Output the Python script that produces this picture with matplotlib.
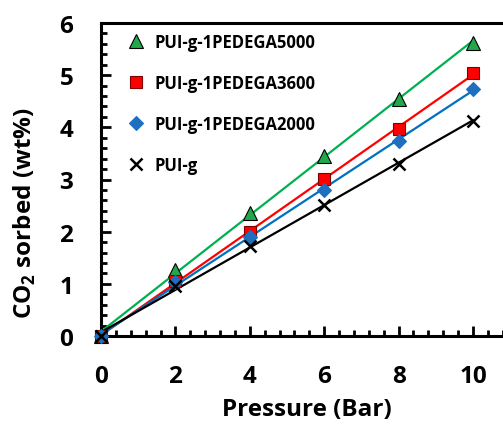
import numpy as np
import matplotlib
matplotlib.use("Agg")
import matplotlib.pyplot as plt
from matplotlib.ticker import MultipleLocator

plt.rcParams['font.family'] = ['Open Sans', 'DejaVu Sans']
plt.rcParams['font.weight'] = 'bold'
plt.rcParams['mathtext.fontset'] = 'custom'
plt.rcParams['mathtext.rm'] = 'Open Sans:bold'
plt.rcParams['mathtext.bf'] = 'Open Sans:bold'

pressure = [0, 2, 4, 6, 8, 10]
pedega5000 = [0.0, 1.27, 2.35, 3.45, 4.55, 5.62]
pedega3600 = [0.0, 1.06, 1.99, 3.01, 3.97, 5.04]
pedega2000 = [0.0, 1.03, 1.89, 2.80, 3.74, 4.74]
pui_g = [0.0, 0.95, 1.73, 2.52, 3.30, 4.12]

labels = ["PUI-g-1PEDEGA5000", "PUI-g-1PEDEGA3600", "PUI-g-1PEDEGA2000", "PUI-g"]

fig = plt.figure(figsize=(5.03, 4.27), dpi=100)
ax = fig.add_axes([101/503, 1-337/427, 1-101/503, (337-24)/427])

series = [
    (pedega5000, '^', '#22A84A', 'black', '#00B050', 10),
    (pedega3600, 's', '#FF0000', '#7F0000', '#FF0000', 9),
    (pedega2000, 'D', '#1F6FC0', '#1F6FC0', '#0070C0', 7),
    (pui_g, 'x', 'black', 'black', 'black', 8),
]
x = np.array(pressure, dtype=float)
xf = np.array([0.0, 10.0])
for (y, m, fc, ec, lc, ms), lab in zip(series, labels):
    p = np.polyfit(x, np.array(y), 1)
    ax.plot(xf, np.polyval(p, xf), color=lc, lw=1.6, zorder=2)
    ax.plot(x, y, linestyle='none', marker=m, markersize=ms, markerfacecolor=fc,
            markeredgecolor=ec, markeredgewidth=1.8 if m == 'x' else 0.8,
            label=lab, zorder=3, clip_on=False)

ax.set_xlim(0, (503 - 101) / 37.2)
ax.set_ylim(0, 6)
ax.xaxis.set_major_locator(MultipleLocator(2))
ax.xaxis.set_minor_locator(MultipleLocator(0.4))
ax.yaxis.set_major_locator(MultipleLocator(1))
ax.yaxis.set_minor_locator(MultipleLocator(0.2))
ax.set_xticks([0, 2, 4, 6, 8, 10])
ax.tick_params(which='both', direction='in', width=2, labelsize=17.5, pad=20)
ax.tick_params(which='major', length=7)
ax.tick_params(which='minor', length=4.5)
for sp in ['left', 'bottom', 'top']:
    ax.spines[sp].set_linewidth(2.2)
ax.spines['right'].set_visible(False)

ax.set_xlabel('Pressure (Bar)', fontsize=17.5, fontweight='bold')
ax.set_ylabel(r'CO$_{2}$ sorbed (wt%)', fontsize=17.5, fontweight='bold')
ax.xaxis.set_label_coords((307-101)/(503-101), -(398-337)/313)
ax.yaxis.set_label_coords(-(101-38)/402, (337-213)/313)

leg = ax.legend(loc='upper left', frameon=False, fontsize=12, handletextpad=0.5,
                labelspacing=1.38, borderaxespad=0.5, bbox_to_anchor=(0.025, 1.016),
                handlelength=1.2)
for t in leg.get_texts():
    t.set_fontweight('bold')

fig.savefig('out.png', dpi=100)
